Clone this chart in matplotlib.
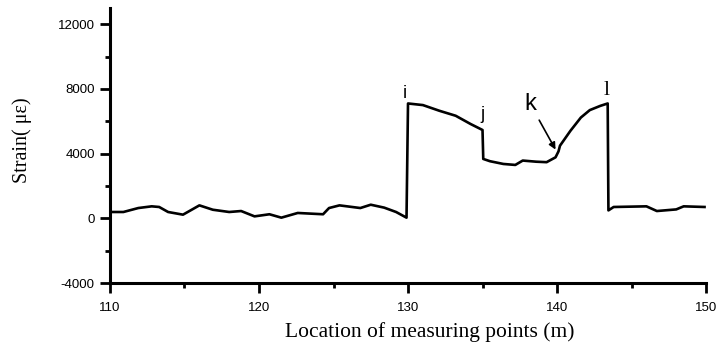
import matplotlib
matplotlib.use('Agg')
import matplotlib.pyplot as plt

# ── Data ───────────────────────────────────────────────────────────
location = [110.0, 110.9, 111.9, 112.8, 113.3, 113.9, 114.9, 116.0, 116.9, 118.0,
            118.8, 119.7, 120.7, 121.5, 122.6, 124.3, 124.7, 125.4, 126.8, 127.5,
            128.4, 129.2, 129.9, 130.0,
            131.0, 132.1, 133.2, 134.2, 135.0, 135.05,
            135.5, 136.4, 137.2, 137.7, 138.6, 139.3, 139.9, 140.1, 140.2, 140.9,
            141.6, 142.2, 142.9, 143.4, 143.45,
            143.8, 146.0, 146.7, 148.0, 148.5, 149.9]
strain = [390, 390, 635, 740, 700, 390, 225, 800, 530, 390,
          450, 120, 250, 40, 330, 250, 635, 800, 635, 840,
          660, 390, 40, 7100,
          7000, 6650, 6340, 5830, 5460, 3670,
          3530, 3360, 3300, 3570, 3500, 3470, 3770, 4140, 4490, 5410,
          6230, 6690, 6950, 7100, 490,
          700, 740, 450, 550, 740, 700]

xticks = [110, 120, 130, 140, 150]
yticks = [-4000, 0, 4000, 8000, 12000]
ytick_labels = ["-4000", "0", "4000", "8000", "12000"]

# point labels: (text, x, y, font family, size)
point_labels = [("i", 129.8, 7450, "Liberation Sans", 13),
                ("j", 135.0, 6150, "Liberation Sans", 13),
                ("l", 143.3, 7650, "Liberation Serif", 16)]

fig = plt.figure(figsize=(7.17, 3.45), dpi=100)
ax = fig.add_axes([0.1534, 0.1797, 0.8313, 0.797])

ax.plot(location, strain, color='black', linewidth=1.9, solid_joinstyle='round')

for txt, x, y, fam, size in point_labels:
    ax.text(x, y, txt, ha='center', va='baseline', family=fam, fontsize=size)

# "k" with arrow pointing at the kink
ax.annotate("k", xy=(139.9, 4250), xytext=(138.2, 6700),
            ha='center', va='baseline', family='Liberation Sans', fontsize=17,
            arrowprops=dict(arrowstyle='-|>', color='black', lw=1.2,
                            mutation_scale=10, shrinkA=2, shrinkB=0))

ax.set_xlim(110, 150)
ax.set_ylim(-4000, 13000)
ax.set_xticks(xticks)
ax.set_xticks([115, 125, 135, 145], minor=True)
ax.set_yticks(yticks)
ax.set_yticklabels(ytick_labels)
ax.set_yticks([-2000, 2000, 6000, 10000], minor=True)

for side in ('top', 'right'):
    ax.spines[side].set_visible(False)
for side in ('left', 'bottom'):
    ax.spines[side].set_linewidth(2.2)

ax.tick_params(which='both', direction='out', width=2, labelsize=9.5)
ax.tick_params(which='major', length=7)
ax.tick_params(which='minor', length=3.5)
ax.tick_params(axis='x', pad=7)
ax.tick_params(axis='y', pad=4)
for lbl in ax.get_xticklabels() + ax.get_yticklabels():
    lbl.set_family('Liberation Sans')

ax.set_xlabel("Location of measuring points (m)", family='Liberation Serif',
              fontsize=15.5)
ax.xaxis.set_label_coords(0.537, -0.142)
ax.set_ylabel("Strain( με)", family='Liberation Serif', fontsize=14.5)
ax.yaxis.set_label_coords(-0.131, 0.52)

fig.savefig("out.png", dpi=100)
plt.close(fig)
